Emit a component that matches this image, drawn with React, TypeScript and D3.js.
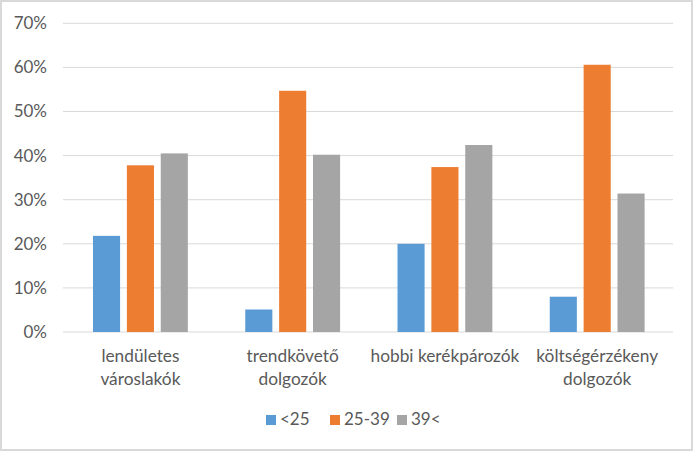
import React from "react";
import * as d3 from "d3";

const categories: string[][] = [
  ["lendületes", "városlakók"],
  ["trendkövető", "dolgozók"],
  ["hobbi kerékpározók"],
  ["költségérzékeny", "dolgozók"],
];
const seriesNames = ["<25", "25-39", "39<"];
const under25 = [0.218, 0.051, 0.2, 0.08];
const age25to39 = [0.378, 0.547, 0.374, 0.606];
const over39 = [0.405, 0.402, 0.424, 0.314];
const colors = ["#5B9BD5", "#ED7D31", "#A5A5A5"];
const yTicks = [0, 0.1, 0.2, 0.3, 0.4, 0.5, 0.6, 0.7];

const W = 697;
const H = 452;
const FONT = "Lato, 'Open Sans', sans-serif";
const TEXT = "#595959";

export default function App() {
  const series = [under25, age25to39, over39];
  const catKeys = categories.map((c) => c.join(" "));
  const y = d3.scaleLinear().domain([0, 0.7]).range([332, 23.3]);
  const x0 = d3.scaleBand<string>().domain(catKeys).range([64.3, 673.3]).paddingInner(0.377).paddingOuter(0.1885);
  const x1 = d3.scaleBand<string>().domain(seriesNames).range([0, x0.bandwidth()]).paddingInner(0.2);
  const fmt = d3.format(".0%");

  const legendItems = [
    { name: seriesNames[0], x: 266 },
    { name: seriesNames[1], x: 330 },
    { name: seriesNames[2], x: 397 },
  ];

  return (
    <svg width={W} height={H} style={{ position: "absolute", left: 0, top: 0 }} fontFamily={FONT}>
      <rect x={0} y={0} width={W} height={H} fill="#ffffff" />
      <rect x={1} y={1} width={691} height={449} fill="#ffffff" stroke="#d9d9d9" strokeWidth={2} />
      {yTicks.map((t) => (
        <g key={t}>
          <line x1={63} x2={673} y1={y(t)} y2={y(t)} stroke="#d9d9d9" strokeWidth={1} />
          <text x={47} y={y(t)} dy="0.35em" textAnchor="end" fontSize={17} fill={TEXT}>
            {fmt(t)}
          </text>
        </g>
      ))}
      {catKeys.map((k, ci) => (
        <g key={k} transform={`translate(${x0(k)},0)`}>
          {series.map((s, si) => (
            <rect
              key={si}
              x={x1(seriesNames[si])}
              y={y(s[ci])}
              width={x1.bandwidth()}
              height={y(0) - y(s[ci])}
              fill={colors[si]}
            />
          ))}
        </g>
      ))}
      {catKeys.map((k, ci) => (
        <text key={k} x={(x0(k) as number) + x0.bandwidth() / 2} textAnchor="middle" fontSize={17.3} fill={TEXT}>
          {categories[ci].map((line, li) => (
            <tspan key={li} x={(x0(k) as number) + x0.bandwidth() / 2} y={362 + li * 22.5}>
              {line}
            </tspan>
          ))}
        </text>
      ))}
      {legendItems.map((it, i) => (
        <g key={it.name}>
          <rect x={it.x} y={415} width={10} height={10} fill={colors[i]} />
          <text x={it.x + 14} y={425} fontSize={17} fill={TEXT}>
            {it.name}
          </text>
        </g>
      ))}
    </svg>
  );
}
